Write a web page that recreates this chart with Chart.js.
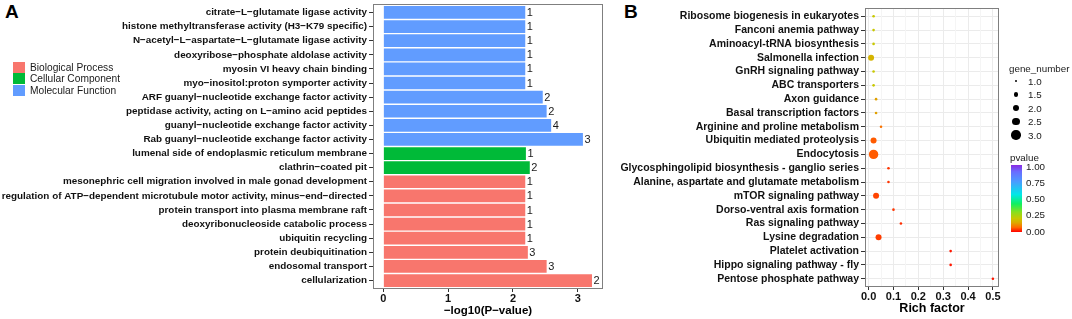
<!DOCTYPE html>
<html>
<head>
<meta charset="utf-8">
<script src="https://cdn.jsdelivr.net/npm/chart.js@4.4.1/dist/chart.umd.min.js"></script>
<style>
  body { margin: 0; width: 1072px; height: 319px; background: #fff; position: relative; overflow: hidden;
         font-family: "Liberation Sans", Arial, sans-serif; color: #1a1a1a; }
  canvas { position: absolute; top: 0; }
  #chartA { left: 0; }
  #chartB { left: 612px; }
  .tag { position: absolute; font-weight: bold; font-size: 19px; line-height: 19px; color: #000; }
  .abs { position: absolute; white-space: nowrap; font-size: 10.2px; line-height: 13px; }
  #legendB .abs { font-size: 9.8px; }
  .sw { position: absolute; width: 12px; height: 11px; }
  .dot { position: absolute; background: #000; border-radius: 50%; }
</style>
</head>
<body>
<div class="tag" style="left:5px; top:2px">A</div>
<div class="tag" style="left:624px; top:2px">B</div>
<canvas id="chartA" width="612" height="319"></canvas>
<canvas id="chartB" width="400" height="319"></canvas>
<div id="legendA"></div>
<div id="legendB"></div>
<script>
// panel A: GO terms, top to bottom
var goTerms = [
    'citrate−L−glutamate ligase activity',
    'histone methyltransferase activity (H3−K79 specific)',
    'N−acetyl−L−aspartate−L−glutamate ligase activity',
    'deoxyribose−phosphate aldolase activity',
    'myosin VI heavy chain binding',
    'myo−inositol:proton symporter activity',
    'ARF guanyl−nucleotide exchange factor activity',
    'peptidase activity, acting on L−amino acid peptides',
    'guanyl−nucleotide exchange factor activity',
    'Rab guanyl−nucleotide exchange factor activity',
    'lumenal side of endoplasmic reticulum membrane',
    'clathrin−coated pit',
    'mesonephric cell migration involved in male gonad development',
    'regulation of ATP−dependent microtubule motor activity, minus−end−directed',
    'protein transport into plasma membrane raft',
    'deoxyribonucleoside catabolic process',
    'ubiquitin recycling',
    'protein deubiquitination',
    'endosomal transport',
    'cellularization'
];
var goOntology = ['MF', 'MF', 'MF', 'MF', 'MF', 'MF', 'MF', 'MF', 'MF', 'MF',
                  'CC', 'CC',
                  'BP', 'BP', 'BP', 'BP', 'BP', 'BP', 'BP', 'BP'];
var goLog10P = [2.19, 2.19, 2.19, 2.19, 2.19, 2.19, 2.46, 2.52, 2.59, 3.08,
                2.20, 2.26,
                2.19, 2.19, 2.19, 2.19, 2.19, 2.23, 2.52, 3.22];
var goCounts = [1, 1, 1, 1, 1, 1, 2, 2, 4, 3,
                1, 2,
                1, 1, 1, 1, 1, 3, 3, 2];
var ontologyKeys = ['BP', 'CC', 'MF'];
var ontologyNames = ['Biological Process', 'Cellular Component', 'Molecular Function'];
var ontologyColors = { BP: '#F8766D', CC: '#00BA38', MF: '#619CFF' };

// panel B: KEGG pathways, top to bottom
var pathways = [
    'Ribosome biogenesis in eukaryotes',
    'Fanconi anemia pathway',
    'Aminoacyl-tRNA biosynthesis',
    'Salmonella infection',
    'GnRH signaling pathway',
    'ABC transporters',
    'Axon guidance',
    'Basal transcription factors',
    'Arginine and proline metabolism',
    'Ubiquitin mediated proteolysis',
    'Endocytosis',
    'Glycosphingolipid biosynthesis - ganglio series',
    'Alanine, aspartate and glutamate metabolism',
    'mTOR signaling pathway',
    'Dorso-ventral axis formation',
    'Ras signaling pathway',
    'Lysine degradation',
    'Platelet activation',
    'Hippo signaling pathway - fly',
    'Pentose phosphate pathway'
];
var richFactor = [0.02, 0.02, 0.02, 0.01, 0.02, 0.02, 0.03, 0.03, 0.05, 0.02,
                  0.02, 0.08, 0.08, 0.03, 0.10, 0.13, 0.04, 0.33, 0.33, 0.50];
var geneNumber = [1, 1, 1, 2, 1, 1, 1, 1, 1, 2,
                  3, 1, 1, 2, 1, 1, 2, 1, 1, 1];
var pValue = [0.20, 0.20, 0.20, 0.16, 0.20, 0.20, 0.13, 0.13, 0.08, 0.06,
              0.06, 0.035, 0.035, 0.045, 0.035, 0.03, 0.04, 0.015, 0.015, 0.015];
var sizeBreaks = [1.0, 1.5, 2.0, 2.5, 3.0];
var pBreaks = [1.00, 0.75, 0.50, 0.25, 0.00];

// rainbow colour scale for pvalue
var pStops = [0, 0.07, 0.14, 0.2, 0.3, 0.42, 0.56, 0.75, 0.9, 1];
var pColors = ['#ff0000', '#ff6a00', '#dcaa00', '#c8c800', '#86e01e', '#10f060', '#00e8e8', '#4a9cff', '#6a6cff', '#8a2be2'];

function hexToRgb(h) {
    return [parseInt(h.substr(1, 2), 16), parseInt(h.substr(3, 2), 16), parseInt(h.substr(5, 2), 16)];
}
function colorFor(p) {
    for (var i = 1; i < pStops.length; i++) {
        if (p <= pStops[i]) {
            var t = (p - pStops[i - 1]) / (pStops[i] - pStops[i - 1]);
            var a = hexToRgb(pColors[i - 1]), b = hexToRgb(pColors[i]);
            return 'rgb(' + a.map((v, k) => Math.round(v + (b[k] - v) * t)).join(',') + ')';
        }
    }
    return pColors[pColors.length - 1];
}
function sizeFor(g) {
    return 1.3 + 1.7 * (g - 1);
}

const plain = '"Liberation Sans", Arial, sans-serif';

const framePlugin = {
    id: 'frame',
    afterDraw(chart) {
        const { ctx, chartArea: a } = chart;
        ctx.save();
        ctx.strokeStyle = '#7f7f7f';
        ctx.lineWidth = 1;
        ctx.strokeRect(a.left + 0.5, a.top + 0.5, a.right - a.left - 1, a.bottom - a.top - 1);
        ctx.restore();
    }
};

const countLabels = {
    id: 'countLabels',
    afterDatasetsDraw(chart) {
        const ctx = chart.ctx;
        const meta = chart.getDatasetMeta(0);
        ctx.save();
        ctx.font = '11px ' + plain;
        ctx.fillStyle = '#1a1a1a';
        ctx.textBaseline = 'middle';
        meta.data.forEach((bar, i) => {
            ctx.fillText(goCounts[i], bar.x + 1.5, bar.y + 0.5);
        });
        ctx.restore();
    }
};

function fixY(width) {
    return s => { s.width = width; s.paddingTop = 0; s.paddingBottom = 0; };
}
function fixX(height) {
    return s => { s.height = height; s.paddingLeft = 0; s.paddingRight = 0; };
}

var chartA = new Chart(document.getElementById('chartA'), {
    type: 'bar',
    data: {
        datasets: [{
            data: goTerms.map((t, i) => ({ x: goLog10P[i], y: i })),
            backgroundColor: goOntology.map(o => ontologyColors[o]),
            borderWidth: 0,
            barPercentage: 0.9,
            categoryPercentage: 1
        }]
    },
    options: {
        indexAxis: 'y',
        responsive: false,
        animation: false,
        layout: { padding: { top: 4, right: 9, left: 0, bottom: 0 } },
        plugins: { legend: { display: false }, tooltip: { enabled: false } },
        scales: {
            y: {
                type: 'linear',
                reverse: true,
                offset: false,
                min: -0.6,
                max: goTerms.length - 0.4,
                afterBuildTicks: s => { s.ticks = goTerms.map((t, i) => ({ value: i })); },
                afterFit: fixY(373),
                ticks: {
                    autoSkip: false,
                    padding: 2,
                    color: '#111',
                    font: { family: plain, size: 9.9, weight: 'bold' },
                    callback: v => goTerms[v]
                },
                grid: { offset: false, drawOnChartArea: false, tickLength: 4, tickColor: '#333' },
                border: { display: false }
            },
            x: {
                type: 'linear',
                min: -0.16,
                max: 3.39,
                afterFit: fixX(30),
                ticks: {
                    stepSize: 1,
                    includeBounds: false,
                    padding: 0,
                    color: '#111',
                    font: { family: plain, size: 11, weight: 'bold' }
                },
                grid: { drawOnChartArea: false, tickLength: 3, tickColor: '#333' },
                border: { display: false },
                title: {
                    display: true,
                    text: '−log10(P−value)',
                    color: '#000',
                    font: { family: plain, size: 11.5, weight: 'bold' },
                    padding: { top: 0, bottom: 1 }
                }
            }
        }
    },
    plugins: [framePlugin, countLabels]
});

var chartB = new Chart(document.getElementById('chartB'), {
    type: 'bubble',
    data: {
        datasets: [{
            data: pathways.map((p, i) => ({ x: richFactor[i], y: i, r: sizeFor(geneNumber[i]) })),
            backgroundColor: pathways.map((p, i) => colorFor(pValue[i])),
            borderWidth: 0,
            hoverBorderWidth: 0
        }]
    },
    options: {
        responsive: false,
        animation: false,
        layout: { padding: { top: 8, right: 13, left: 0, bottom: 0 } },
        plugins: { legend: { display: false }, tooltip: { enabled: false } },
        scales: {
            y: {
                type: 'linear',
                reverse: true,
                offset: false,
                min: -0.6,
                max: pathways.length - 0.4,
                afterBuildTicks: s => { s.ticks = pathways.map((t, i) => ({ value: i })); },
                afterFit: fixY(253),
                ticks: {
                    autoSkip: false,
                    padding: 2,
                    color: '#111',
                    font: { family: plain, size: 10.5, weight: 'bold' },
                    callback: v => pathways[v]
                },
                grid: { color: '#ebebeb', tickLength: 4, tickColor: '#333' },
                border: { display: false }
            },
            x: {
                type: 'linear',
                min: -0.0145,
                max: 0.5245,
                afterFit: fixX(32),
                ticks: {
                    stepSize: 0.05,
                    includeBounds: false,
                    autoSkip: false,
                    maxRotation: 0,
                    padding: 0,
                    color: '#111',
                    font: { family: plain, size: 11, weight: 'bold' },
                    callback: v => (Math.round(v * 100) % 10 === 0 ? v.toFixed(1) : '')
                },
                grid: {
                    color: c => (Math.round(c.tick.value * 100) % 10 === 0 ? '#ebebeb' : '#f5f5f5'),
                    tickColor: c => (Math.round(c.tick.value * 100) % 10 === 0 ? '#333' : 'rgba(0,0,0,0)'),
                    tickLength: 3
                },
                border: { display: false },
                title: {
                    display: true,
                    text: 'Rich factor',
                    color: '#000',
                    font: { family: plain, size: 12.5, weight: 'bold' },
                    padding: { top: 0, bottom: 2.5 }
                }
            }
        }
    },
    plugins: [framePlugin]
});

// legend for panel A
var legA = document.getElementById('legendA');
ontologyKeys.forEach((k, i) => {
    var cy = 67 + i * 11.8;
    var sw = document.createElement('div');
    sw.className = 'sw';
    sw.style.left = '13px';
    sw.style.top = (cy - 5.5) + 'px';
    sw.style.background = ontologyColors[k];
    legA.appendChild(sw);
    var tx = document.createElement('div');
    tx.className = 'abs';
    tx.style.left = '30px';
    tx.style.top = (cy - 6.5) + 'px';
    tx.textContent = ontologyNames[i];
    legA.appendChild(tx);
});

// legend for panel B
var legB = document.getElementById('legendB');
function addText(text, x, cy) {
    var d = document.createElement('div');
    d.className = 'abs';
    d.style.left = x + 'px';
    d.style.top = (cy - 6.5) + 'px';
    d.textContent = text;
    legB.appendChild(d);
}
addText('gene_number', 1009, 68.5);
sizeBreaks.forEach((g, i) => {
    var cy = 81 + i * 13.5;
    var r = sizeFor(g);
    var dot = document.createElement('div');
    dot.className = 'dot';
    dot.style.left = (1016 - r) + 'px';
    dot.style.top = (cy - r) + 'px';
    dot.style.width = (2 * r) + 'px';
    dot.style.height = (2 * r) + 'px';
    legB.appendChild(dot);
    addText(g.toFixed(1), 1028, cy);
});
addText('pvalue', 1010, 157);
var bar = document.createElement('div');
bar.style.cssText = 'position:absolute; left:1011px; top:165px; width:11px; height:67px;';
bar.style.background = 'linear-gradient(to top, ' +
    pStops.map((s, i) => pColors[i] + ' ' + (s * 100) + '%').join(', ') + ')';
legB.appendChild(bar);
pBreaks.forEach(p => {
    addText(p.toFixed(2), 1026, 166.5 + (1 - p) * 64.5);
});
</script>
</body>
</html>
